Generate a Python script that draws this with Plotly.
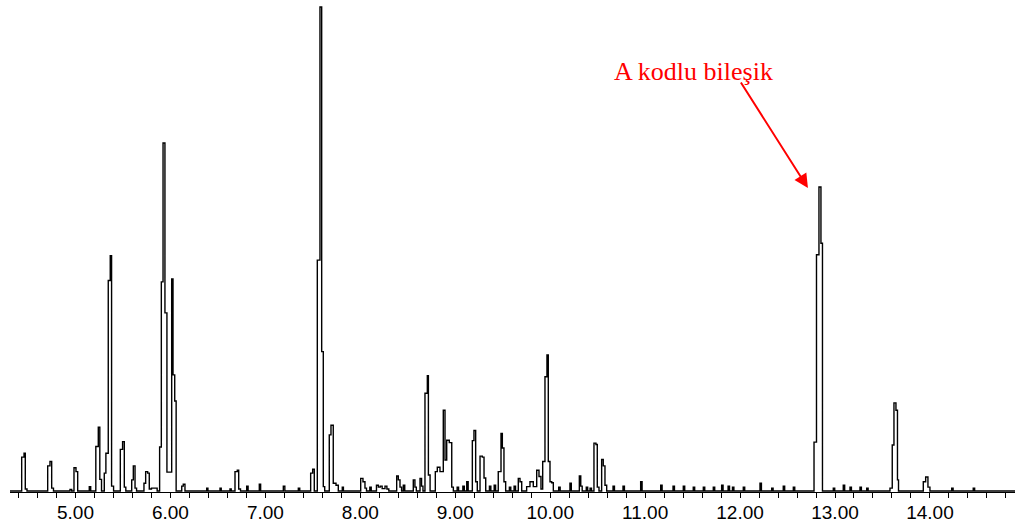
import plotly.graph_objects as go

# Retention time (min) and relative abundance (%) samples of the chromatogram
rt = [4.310,
      4.433, 4.458, 4.471, 4.489,
      4.707, 4.731, 4.749, 4.768,
      4.942, 4.960,
      4.984, 5.005, 5.023,
      5.145, 5.160,
      5.214, 5.240, 5.256, 5.274,
      5.303, 5.320, 5.345, 5.366, 5.380, 5.401,
      5.472, 5.496, 5.514, 5.530,
      5.592, 5.609, 5.627, 5.643,
      5.721, 5.739, 5.760, 5.777, 5.800, 5.860,
      5.886, 5.904, 5.922, 5.942, 5.963, 5.986, 6.013, 6.027, 6.045, 6.060,
      6.119, 6.135, 6.153,
      6.382, 6.395, 6.522, 6.535, 6.627, 6.640,
      6.680, 6.704, 6.719, 6.738,
      6.803, 6.818, 6.936, 6.950, 7.189, 7.205, 7.347, 7.362,
      7.477, 7.498, 7.515,
      7.547, 7.575, 7.593, 7.610, 7.625,
      7.673, 7.691, 7.715, 7.744, 7.768,
      7.810, 7.822,
      8.004, 8.028, 8.049, 8.065,
      8.100, 8.115, 8.170, 8.190, 8.210, 8.230, 8.260, 8.280, 8.300,
      8.383, 8.400, 8.418, 8.435,
      8.453, 8.468,
      8.558, 8.575, 8.590,
      8.629, 8.645, 8.660,
      8.681, 8.706, 8.717, 8.735,
      8.790, 8.811, 8.839, 8.874, 8.892, 8.910, 8.937, 8.963, 8.980,
      9.020, 9.035, 9.080, 9.095, 9.121, 9.136,
      9.180, 9.197, 9.215, 9.232,
      9.261, 9.285, 9.303, 9.321,
      9.360, 9.375, 9.410, 9.425,
      9.453, 9.482, 9.496, 9.513, 9.531,
      9.570, 9.585, 9.620, 9.635,
      9.664, 9.682, 9.700,
      9.752, 9.787, 9.822, 9.858, 9.882, 9.903, 9.921, 9.945, 9.966, 9.980, 9.998, 10.016, 10.033,
      10.090, 10.105, 10.208, 10.222, 10.307, 10.322, 10.337, 10.380, 10.395, 10.420, 10.435,
      10.461, 10.482, 10.496, 10.514,
      10.542, 10.559, 10.577, 10.595,
      10.662, 10.677, 10.767, 10.782, 10.953, 10.968, 11.164, 11.179, 11.294, 11.309,
      11.402, 11.417, 11.507, 11.522, 11.613, 11.628, 11.718, 11.733, 11.806, 11.821,
      11.874, 11.889, 11.920, 11.935, 12.034, 12.049, 12.210, 12.225, 12.333, 12.348,
      12.455, 12.470, 12.561, 12.576,
      12.779, 12.805, 12.831, 12.852, 12.868,
      12.982, 12.997, 13.087, 13.102, 13.158, 13.173, 13.263, 13.278, 13.334, 13.349,
      13.579, 13.603, 13.621, 13.642, 13.658, 13.669,
      13.930, 13.955, 13.979, 14.000,
      14.229, 14.244, 14.456, 14.471,
      14.896]

abundance = [0,
             7.0, 7.8, 0.4, 0,
             5.2, 6.1, 0.6, 0,
             0.3, 0,
             4.8, 4.0, 0,
             0.9, 0,
             9.2, 13.2, 2.4, 0,
             3.7, 7.8, 43.5, 48.6, 1.0, 0,
             8.6, 10.2, 0.8, 0,
             2.3, 5.2, 0.6, 0,
             1.6, 4.0, 3.7, 0.4, 0.6, 0,
             9.1, 43.2, 71.9, 36.8, 3.9, 3.9, 43.8, 24.0, 18.6, 0,
             1.0, 1.4, 0,
             0.6, 0, 0.6, 0, 0.4, 0,
             4.0, 4.3, 0.4, 0,
             1.0, 0, 1.4, 0, 1.0, 0, 0.6, 0,
             3.7, 4.5, 0,
             47.7, 100.0, 28.8, 0.9, 0,
             11.6, 13.6, 1.6, 1.2, 0,
             0.8, 0,
             2.6, 1.9, 0.6, 0,
             0.8, 0, 1.2, 0.8, 1.0, 0.5, 1.0, 0.4, 0,
             3.1, 2.3, 0.8, 0,
             1.2, 0,
             2.3, 0.8, 0,
             2.6, 1.0, 0,
             20.2, 23.8, 3.3, 0,
             4.0, 4.9, 4.0, 16.7, 6.4, 10.5, 10.0, 0.8, 0,
             0.8, 0, 1.0, 0, 1.9, 0,
             10.4, 12.5, 1.9, 0,
             7.2, 7.0, 2.7, 0,
             1.0, 0, 1.2, 0,
             4.0, 11.9, 8.9, 1.9, 0,
             0.8, 0, 1.0, 0,
             2.6, 1.9, 0,
             0.9, 1.9, 0.9, 4.3, 3.0, 0.4, 6.1, 23.6, 28.1, 6.1, 1.9, 1.7, 0,
             0.8, 0, 1.6, 0, 3.1, 1.0, 0, 0.8, 0, 0.6, 0,
             9.9, 9.6, 0.8, 0,
             6.5, 5.2, 1.2, 0,
             1.0, 0, 1.0, 0, 1.9, 0, 1.2, 0, 1.0, 0,
             1.0, 0, 0.8, 0, 0.8, 0, 0.8, 0, 1.2, 0,
             1.0, 0, 0.8, 0, 0.8, 0, 1.6, 0, 0.6, 0,
             1.0, 0, 0.8, 0,
             10.1, 48.8, 62.8, 51.2, 0,
             0.6, 0, 1.2, 0, 0.8, 0, 0.8, 0, 0.6, 0,
             0.6, 9.5, 18.2, 16.7, 2.3, 0,
             1.9, 2.9, 0.8, 0,
             0.6, 0, 0.6, 0,
             0]

label_text = "A kodlu bileşik"
label_rt, label_ab = 11.509, 86.6        # where the label sits
target_rt, target_ab = 12.715, 62.6      # where the arrow points

fig = go.Figure()
fig.add_trace(go.Scatter(
    x=rt, y=abundance, mode="lines",
    line=dict(color="black", width=1.4, shape="hv"),
    hoverinfo="skip", showlegend=False,
))

fig.add_annotation(
    x=label_rt, y=label_ab, text=label_text, showarrow=False,
    xanchor="center", yanchor="middle",
    font=dict(family="Liberation Serif", size=26, color="#ff0000"),
)
fig.add_annotation(
    x=target_rt, y=target_ab, text="", showarrow=True,
    ax=-68, ay=-107, axref="pixel", ayref="pixel",
    arrowhead=2, arrowsize=1.4, arrowwidth=2, arrowcolor="#ff0000",
)

fig.update_layout(
    width=1022, height=531,
    margin=dict(l=10, r=7, t=0, b=39),
    paper_bgcolor="white", plot_bgcolor="white",
    showlegend=False,
    xaxis=dict(
        range=[4.310, 14.896], showgrid=False, zeroline=False,
        showline=True, linecolor="black", linewidth=1.4,
        ticks="outside", ticklen=5, tickwidth=1.2, tickcolor="black",
        tick0=5, dtick=1, tickformat=".2f", ticklabelstandoff=-2,
        tickfont=dict(family="Liberation Sans", size=19, color="black"),
        minor=dict(dtick=0.2, ticks="outside", ticklen=5, tickwidth=1.2,
                   tickcolor="black", showgrid=False),
    ),
    yaxis=dict(range=[-0.2066, 101.45], visible=False, showgrid=False,
               zeroline=False),
)

fig.write_html("out.html")
